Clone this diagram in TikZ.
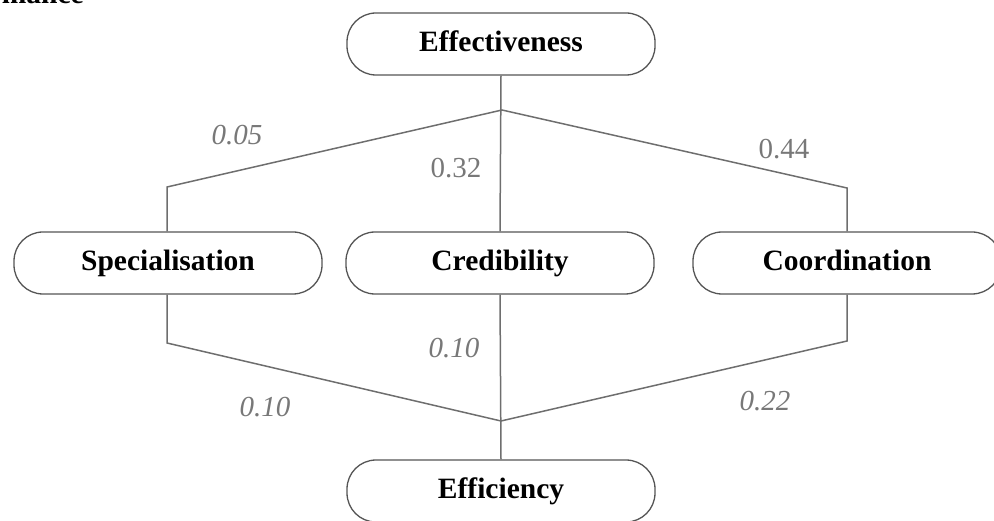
\documentclass[tikz,border=0pt]{standalone}
\usepackage{fontspec}
\setmainfont{Liberation Serif}
\begin{document}
\begin{tikzpicture}[x=1pt,y=-1pt,
  box/.style={draw=boxgray,line width=1.3pt,rounded corners=29pt,minimum width=308pt,minimum height=62pt,inner sep=0pt,text height=20pt,text depth=4.5pt,font=\fontsize{29.5}{32}\selectfont\bfseries,text=black},
  conn/.style={draw=linegray,line width=1.5pt},
  wlab/.style={text=labgray,font=\fontsize{29}{32}\selectfont\itshape,inner sep=0pt},
  wlabu/.style={text=labgray,font=\fontsize{29}{32}\selectfont,inner sep=0pt}]
\definecolor{boxgray}{RGB}{85,85,85}
\definecolor{linegray}{RGB}{110,110,110}
\definecolor{labgray}{RGB}{120,120,120}
\useasboundingbox (0,0) rectangle (994,521);
\node[anchor=base east,font=\fontsize{29.5}{32}\selectfont\bfseries,inner sep=0pt] (cap) at (84,4) {rmance};
\node[box] (effe) at (501,44) {Effectiveness};
\node[box] (spec) at (168,263) {Specialisation};
\node[box] (cred) at (500,263) {Credibility};
\node[box] (coord) at (847,263) {Coordination};
\node[box] (effi) at (501,491) {Efficiency};
\coordinate (jt) at (502,110);
\coordinate (tl) at (167,187);
\coordinate (tr) at (847,188);
\coordinate (jb) at (501,421);
\coordinate (bl) at (167,343);
\coordinate (br) at (847,341);
\draw[conn] (effe.south) -- (cred.north);
\draw[conn] (spec.north -| tl) -- (tl) -- (jt) -- (tr) -- (coord.north -| tr);
\draw[conn] (cred.south) -- (effi.north);
\draw[conn] (spec.south -| bl) -- (bl) -- (jb) -- (br) -- (coord.south -| br);
\node[wlab] (l1) at (237,135) {0.05};
\node[wlabu] (l2) at (456,168) {0.32};
\node[wlabu] (l3) at (784,149) {0.44};
\node[wlab] (l4) at (454,348) {0.10};
\node[wlab] (l5) at (265,407) {0.10};
\node[wlab] (l6) at (765,401) {0.22};
\end{tikzpicture}
\end{document}
